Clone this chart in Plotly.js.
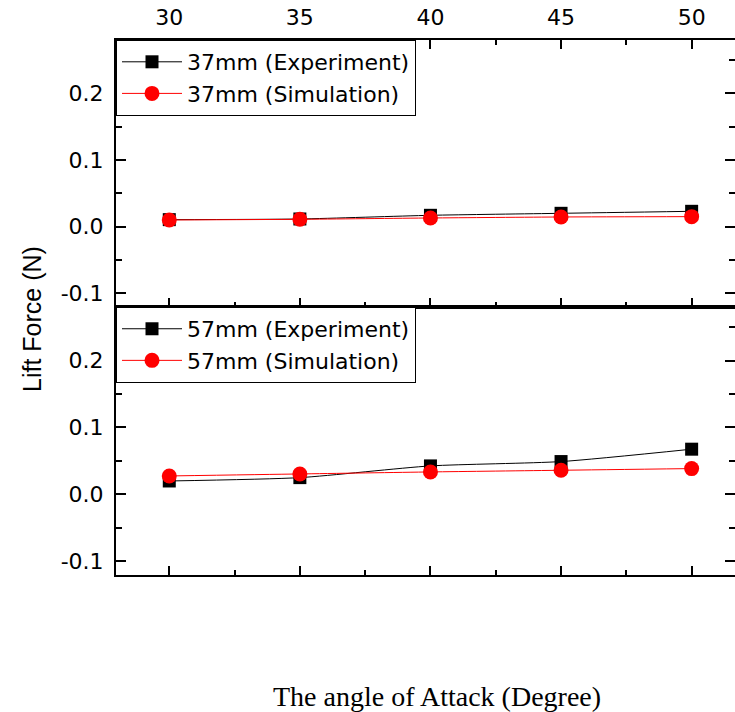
<!DOCTYPE html>
<html>
<head>
<meta charset="utf-8">
<script src="https://cdn.plot.ly/plotly-3.0.1.min.js"></script>
<style>html,body{margin:0;padding:0;background:#fff;}#chart{width:735px;height:712px;}</style>
</head>
<body>
<div id="chart"></div>
<script>
const angles = [30, 35, 40, 45, 50];
const exp37 = [0.0105, 0.0115, 0.017, 0.020, 0.023];
const sim37 = [0.010, 0.011, 0.013, 0.0145, 0.015];
const exp57 = [0.020, 0.025, 0.0425, 0.049, 0.0675];
const sim57 = [0.0275, 0.0305, 0.0335, 0.036, 0.0385];
const names37 = ["37mm (Experiment)", "37mm (Simulation)"];
const names57 = ["57mm (Experiment)", "57mm (Simulation)"];
const yTickVals = [-0.1, 0.0, 0.1, 0.2];
const yTickText = ["-0.1", "0.0", "0.1", "0.2"];

function tr(x, y, name, color, sym, xa, ya, leg) {
  return {
    x: x, y: y, name: name, type: 'scatter', mode: 'lines+markers',
    xaxis: xa, yaxis: ya, legend: leg,
    line: {color: color, width: 1, shape: 'spline', smoothing: 0.6},
    marker: {color: color, symbol: sym, size: sym === 'square' ? 13 : 15}
  };
}

const data = [
  tr(angles, exp37, names37[0], '#000000', 'square', 'x', 'y2', 'legend'),
  tr(angles, sim37, names37[1], '#ff0000', 'circle', 'x', 'y2', 'legend'),
  tr(angles, exp57, names57[0], '#000000', 'square', 'x2', 'y', 'legend2'),
  tr(angles, sim57, names57[1], '#ff0000', 'circle', 'x2', 'y', 'legend2')
];

const font = {family: 'DejaVu Sans, Arial, sans-serif', size: 22, color: '#000'};
const yRange = [-0.1205, 0.28];
const xRange = [27.96, 51.66];
const yax = (dom) => ({
  domain: dom, range: yRange, tickvals: yTickVals, ticktext: yTickText,
  ticks: 'inside', ticklen: 10, tickwidth: 2, tickcolor: '#000',
  showline: true, linecolor: '#000', linewidth: 2, mirror: 'ticks',
  showgrid: false, zeroline: false, tickfont: font, ticklabelstandoff: 6,
  minor: {dtick: 0.05, tick0: 0, ticks: 'inside', ticklen: 6, tickwidth: 2, tickcolor: '#000', showgrid: false}
});
const split = 0.501;
const layout = {
  width: 735, height: 712,
  margin: {l: 116, r: 0, t: 40, b: 137},
  paper_bgcolor: '#fff', plot_bgcolor: '#fff',
  showlegend: true,
  font: font,
  xaxis: {
    anchor: 'y2', side: 'top', range: xRange, tickvals: angles,
    ticks: 'inside', ticklen: 9, tickwidth: 2, tickcolor: '#000',
    showline: true, linecolor: '#000', linewidth: 2, mirror: 'ticks',
    showgrid: false, zeroline: false, tickfont: font, ticklabelstandoff: 4,
    minor: {dtick: 2.5, tick0: 27.5, ticks: 'inside', ticklen: 5, tickwidth: 2, tickcolor: '#000', showgrid: false}
  },
  xaxis2: {
    anchor: 'y', matches: 'x', range: xRange, tickvals: angles,
    ticks: 'inside', ticklen: 9, tickwidth: 2, tickcolor: '#000',
    showline: true, linecolor: '#000', linewidth: 2, mirror: true,
    showgrid: false, zeroline: false, showticklabels: false,
    minor: {dtick: 2.5, tick0: 27.5, ticks: 'inside', ticklen: 5, tickwidth: 2, tickcolor: '#000', showgrid: false}
  },
  yaxis: yax([0, split]),
  yaxis2: yax([split, 1]),
  legend: {
    x: 0, y: 1, xref: 'paper', yref: 'paper', xanchor: 'left', yanchor: 'top',
    bgcolor: '#fff', bordercolor: '#000', borderwidth: 1,
    font: font, tracegroupgap: 0, itemwidth: 60
  },
  legend2: {
    x: 0, y: split, xref: 'paper', yref: 'paper', xanchor: 'left', yanchor: 'top',
    bgcolor: '#fff', bordercolor: '#000', borderwidth: 1,
    font: font, tracegroupgap: 0, itemwidth: 60
  },
  annotations: [
    {text: 'Lift Force (N)', xref: 'paper', yref: 'paper', x: -0.1357, y: 0.4785,
     xanchor: 'center', yanchor: 'middle', textangle: -90, showarrow: false,
     font: {family: 'Arial, Liberation Sans, sans-serif', size: 25, color: '#000'}},
    {text: 'The angle of Attack (Degree)', xref: 'paper', yref: 'paper', x: 0.5186, y: -0.228,
     xanchor: 'center', yanchor: 'middle', showarrow: false,
     font: {family: 'Times New Roman, Liberation Serif, serif', size: 28, color: '#000'}}
  ]
};

Plotly.newPlot('chart', data, layout, {displayModeBar: false, staticPlot: true});
</script>
</body>
</html>
